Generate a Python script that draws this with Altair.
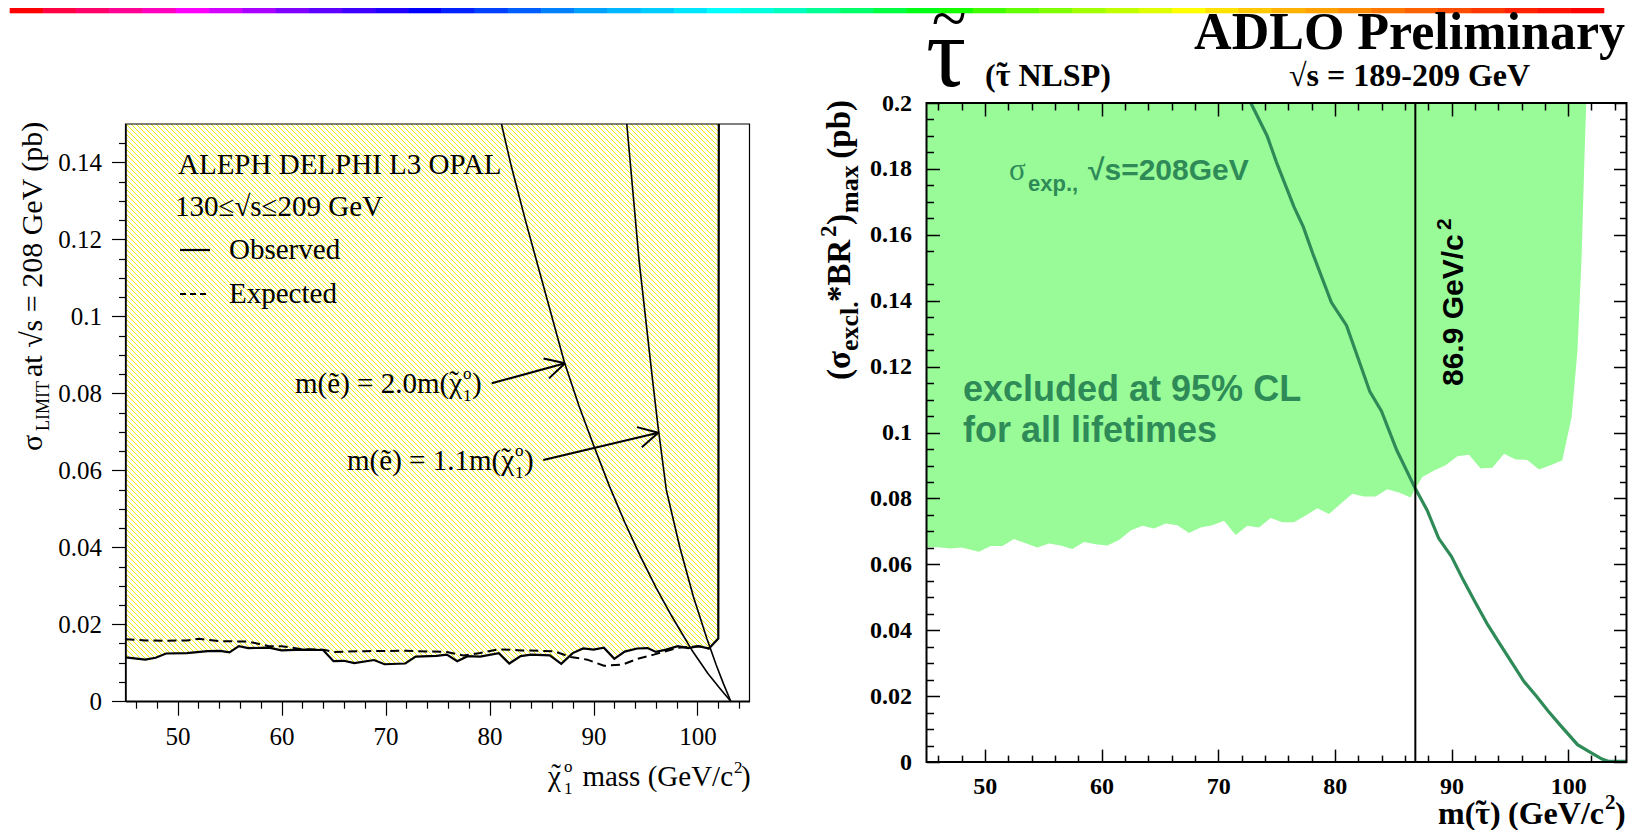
import math
import altair as alt
import pandas as pd

OFF = 8          # page margin
W_TOT, H_TOT = 1630, 822
SERIF = "Liberation Serif"
SANS = "Liberation Sans"
GREEN_FILL = "#98fb98"
GREEN_DARK = "#2e8b57"
HATCH = "#f5eb00"

# ------------------------------------------------------------------ data
# Left panel: chi01 mass vs sigma limit
obs_mass = [45.0, 46.9, 47.9, 48.9, 50.9, 52.9, 54.1, 55.0, 55.9, 56.8, 58.8, 60.0, 62.0, 64.0,
            65.0, 66.0, 67.0, 68.9, 69.9, 71.9, 72.9, 74.9, 75.9, 76.9, 77.9, 79.1, 80.9, 81.9,
            83.0, 84.0, 85.8, 86.9, 88.0, 89.0, 90.0, 91.0, 92.0, 93.0, 94.2, 95.2, 96.0, 97.0,
            98.1, 99.1, 100.1, 101.1, 102.0, 102.05]
obs_sigma = [0.0114, 0.0108, 0.0113, 0.0124, 0.0125, 0.0130, 0.0131, 0.0127, 0.0143, 0.0138,
             0.0139, 0.0132, 0.0134, 0.0133, 0.0104, 0.0105, 0.0099, 0.0107, 0.0096, 0.0098,
             0.0116, 0.0118, 0.0121, 0.0104, 0.0117, 0.0116, 0.0125, 0.0098, 0.0117, 0.0121,
             0.0119, 0.0097, 0.0125, 0.0137, 0.0134, 0.0139, 0.0110, 0.0129, 0.0137, 0.0138,
             0.0128, 0.0134, 0.0143, 0.0138, 0.0143, 0.0137, 0.0163, 0.150]
exp_mass = [45.0, 46.9, 48.9, 50.9, 52.1, 54.1, 56.8, 58.8, 60.0, 62.0,
            64.0, 65.0, 68.0, 71.9, 75.9, 77.5, 79.1, 80.9, 83.0, 86.2,
            87.8, 89.4, 91.0, 92.8, 94.2, 95.8, 98.1, 100.1, 101.1]
exp_sigma = [0.0161, 0.0158, 0.0157, 0.0158, 0.0162, 0.0156, 0.0155, 0.0143, 0.0143, 0.0135,
             0.0134, 0.0128, 0.0130, 0.0131, 0.0128, 0.0119, 0.0125, 0.0135, 0.0132, 0.0130,
             0.0115, 0.0108, 0.0092, 0.0095, 0.0110, 0.0121, 0.0139, 0.0143, 0.0137]
th20_mass = [81.15, 82.06, 83.5, 85.3, 87.2, 88.6, 90.0, 91.5, 93.0, 94.5, 96.0, 97.5, 99.5,
             101.0, 102.2, 103.2]
th20_sigma = [0.150, 0.1394, 0.1245, 0.1068, 0.0881, 0.0768, 0.0666, 0.0561, 0.0465, 0.0377,
              0.0296, 0.0222, 0.0131, 0.0072, 0.0032, 0.0]
th11_mass = [93.2, 94.4, 95.7, 96.2, 97.0, 98.3, 99.6, 100.9, 101.8, 102.5, 103.2]
th11_sigma = [0.150, 0.1141, 0.0830, 0.0715, 0.0549, 0.0400, 0.0272, 0.0163, 0.0094, 0.0045, 0.0]

# Right panel: stau NLSP
excl_mass = [45.0, 46.0, 47.0, 48.0, 49.5, 50.5, 51.5, 52.5, 53.5, 54.5, 55.5, 56.5, 57.5, 58.5,
             59.5, 60.5, 61.5, 62.5, 63.5, 64.5, 65.5, 66.5, 67.5, 68.5, 69.5, 70.5, 71.5, 72.5,
             73.5, 74.5, 75.5, 76.5, 77.5, 78.5, 79.5, 80.5, 81.5, 82.5, 83.5, 84.5, 85.5, 86.5,
             86.9, 87.5, 88.5, 89.5, 90.5, 91.5, 92.5, 93.5, 94.5, 95.5, 96.5, 97.5, 98.5, 99.5,
             100.3, 100.8, 101.15, 101.4, 101.55]
excl_sigma = [0.0652, 0.0652, 0.0648, 0.0651, 0.0638, 0.0656, 0.0656, 0.0677, 0.0664, 0.0651,
              0.0663, 0.0657, 0.0647, 0.0668, 0.0661, 0.0657, 0.0674, 0.0703, 0.0717, 0.0709,
              0.0724, 0.0719, 0.0695, 0.0712, 0.0719, 0.0732, 0.0689, 0.0717, 0.0712, 0.0741,
              0.0728, 0.0728, 0.0748, 0.0770, 0.0753, 0.0784, 0.0814, 0.0806, 0.0806, 0.0828,
              0.0818, 0.0803, 0.0830, 0.0865, 0.0885, 0.0901, 0.0928, 0.0933, 0.0891, 0.0893,
              0.0936, 0.0918, 0.0917, 0.0888, 0.0901, 0.0916, 0.1048, 0.125, 0.153, 0.184, 0.200]
sexp_mass = [72.8, 74.2, 75.0, 76.5, 77.3, 78.1, 79.7, 81.0, 82.1, 83.0, 84.0, 85.3, 86.9, 87.9,
             88.9, 90.0, 91.0, 92.0, 93.1, 94.1, 95.2, 96.2, 97.3, 98.3, 99.3, 100.8, 101.8,
             102.9, 103.5, 105.0]
sexp_sigma = [0.200, 0.190, 0.182, 0.1685, 0.1624, 0.1544, 0.1395, 0.1325, 0.1215, 0.1124,
              0.1065, 0.0947, 0.0830, 0.0765, 0.0679, 0.0624, 0.0553, 0.0487, 0.0417, 0.0361,
              0.0300, 0.0245, 0.0199, 0.0154, 0.0113, 0.0053, 0.0032, 0.0009, 0.0002, 0.0002]
limit_mass = [86.9]

# ticks
x_major = [50, 60, 70, 80, 90, 100]
x_minor = [46, 48, 52, 54, 56, 58, 62, 64, 66, 68, 72, 74, 76, 78, 82, 84, 86, 88,
           92, 94, 96, 98, 102, 104]
ly_major = [0, 0.02, 0.04, 0.06, 0.08, 0.1, 0.12, 0.14]
ly_minor = [0.005, 0.01, 0.015, 0.025, 0.03, 0.035, 0.045, 0.05, 0.055, 0.065, 0.07, 0.075,
            0.085, 0.09, 0.095, 0.105, 0.11, 0.115, 0.125, 0.13, 0.135, 0.145]
ry_major = [0, 0.02, 0.04, 0.06, 0.08, 0.1, 0.12, 0.14, 0.16, 0.18, 0.2]
ry_minor = ly_minor + [0.155, 0.165, 0.17, 0.175, 0.185, 0.19, 0.195]

rainbow = ["#ff0000", "#ff0040", "#ff006a", "#ff0095", "#ff00bf", "#ff00ff", "#d400ff", "#aa00ff",
           "#8000ff", "#5e00ff", "#4000ff", "#2200ff", "#0000ff", "#0022ff", "#0040ff", "#005eff",
           "#0080ff", "#00a2ff", "#00b7ff", "#00ccff", "#00e6ff", "#00ffff", "#00ffdd", "#00ffbf",
           "#00ff95", "#00ff6a", "#00ff40", "#00ff15", "#15ff00", "#40ff00", "#62ff00", "#80ff00",
           "#a2ff00", "#bfff00", "#ddff00", "#ffff00", "#ffe100", "#ffc800", "#ffb300", "#ffa200",
           "#ff8c00", "#ff7700", "#ff6200", "#ff4d00", "#ff3700", "#ff2200", "#ff1100", "#ff0000"]

# ------------------------------------------------------------------ scales (pixel placement)
LXR = [117.5, 741.5]
LYR = [693.2, 116.0]
RXR = [918.5, 1618.5]
RYR = [754.1, 95.0]
LX = alt.Scale(domain=[45, 105], range=LXR, nice=False, zero=False)
LY = alt.Scale(domain=[0, 0.15], range=LYR, nice=False, zero=False)
RX = alt.Scale(domain=[45, 105], range=RXR, nice=False, zero=False)
RY = alt.Scale(domain=[0, 0.2], range=RYR, nice=False, zero=False)


def bottom_at(y):
    return (y - OFF) - H_TOT


def top_at(y):
    return -(y - OFF)


def left_at(x):
    return -(x - OFF)


def right_at(x):
    return (x - OFF) - W_TOT


def axis_layer(vals, chan, scale, **kw):
    base = dict(title="", grid=False, labelFlush=False, labelOverlap=False, zindex=1,
                domainColor="black", tickColor="black", labelColor="black", values=vals)
    base.update(kw)
    ax = alt.Axis(**base)
    df = pd.DataFrame({"v": vals})
    if chan == "x":
        enc = {"x": alt.X("v:Q", scale=scale, axis=ax)}
    else:
        enc = {"y": alt.Y("v:Q", scale=scale, axis=ax)}
    return alt.Chart(df).mark_point(opacity=0).encode(**enc)


def text(t, x, y, size, font=SERIF, weight="normal", color="black", align="left", angle=0):
    return alt.Chart(pd.DataFrame({"t": [t]})).mark_text(
        align=align, baseline="alphabetic", font=font, fontSize=size,
        fontWeight=weight, color=color, angle=angle
    ).encode(x=alt.value(x - OFF), y=alt.value(y - OFF), text="t:N")


def seg(x1, y1, x2, y2, w=2.0, color="black", dash=None):
    kw = dict(color=color, strokeWidth=w)
    if dash:
        kw["strokeDash"] = dash
    return alt.Chart(pd.DataFrame({"a": [0]})).mark_rule(**kw).encode(
        x=alt.value(x1 - OFF), y=alt.value(y1 - OFF),
        x2=alt.value(x2 - OFF), y2=alt.value(y2 - OFF))


def arrow(x1, y1, x2, y2, head=22, ang=28, w=2.0):
    dx, dy = x1 - x2, y1 - y2
    L = math.hypot(dx, dy)
    ux, uy = dx / L, dy / L
    parts = [seg(x1, y1, x2, y2, w)]
    for s in (1, -1):
        a = math.radians(ang * s)
        hx = ux * math.cos(a) - uy * math.sin(a)
        hy = ux * math.sin(a) + uy * math.cos(a)
        parts.append(seg(x2, y2, x2 + head * hx, y2 + head * hy, w))
    return parts


one = pd.DataFrame({"a": [0]})

# ------------------------------------------------------------------ left panel
obs_df = pd.DataFrame({"m": obs_mass, "s": obs_sigma})
exp_df = pd.DataFrame({"m": exp_mass, "s": exp_sigma})
th20_df = pd.DataFrame({"m": th20_mass, "s": th20_sigma})
th11_df = pd.DataFrame({"m": th11_mass, "s": th11_sigma})


def lxp(v):
    return LXR[0] + (v - 45) / 60 * (LXR[1] - LXR[0])


def lyp(v):
    return LYR[0] + v / 0.15 * (LYR[1] - LYR[0])


# 45-degree yellow hatch: hard-stop linear gradient over the hatched area's bounding box,
# with an exact 5 px horizontal period so that it lies on the pixel grid.
PERIOD = 5.0
hatch_w = lxp(max(obs_mass)) - lxp(min(obs_mass))
hatch_h = lyp(min(obs_sigma)) - lyp(0.15)
ratio = hatch_h / hatch_w
n_per = int(math.ceil(hatch_w * (1 + ratio) / PERIOD))
kvec = PERIOD * n_per / (hatch_w * (1 + ratio * ratio))
frac = 0.3
stops = []
for k in range(n_per):
    a = round(k / n_per, 7)
    b = round((k + frac) / n_per, 7)
    c = round((k + 1) / n_per, 7)
    stops += [alt.GradientStop(offset=a, color=HATCH), alt.GradientStop(offset=b, color=HATCH),
              alt.GradientStop(offset=b, color="#ffffff"), alt.GradientStop(offset=c, color="#ffffff")]
hatch = alt.LinearGradient(gradient="linear", stops=stops, x1=0, y1=1,
                           x2=round(kvec, 7), y2=round(1 - kvec * ratio, 7))

l_area = alt.Chart(obs_df).mark_area(color=hatch).encode(
    x=alt.X("m:Q", scale=LX, axis=None), y=alt.Y("s:Q", scale=LY, axis=None), y2=alt.datum(0.15))
l_th20 = alt.Chart(th20_df).mark_line(color="black", strokeWidth=1.6).encode(
    x=alt.X("m:Q", scale=LX, axis=None), y=alt.Y("s:Q", scale=LY, axis=None))
l_th11 = alt.Chart(th11_df).mark_line(color="black", strokeWidth=1.6).encode(
    x=alt.X("m:Q", scale=LX, axis=None), y=alt.Y("s:Q", scale=LY, axis=None))
l_exp = alt.Chart(exp_df).mark_line(color="black", strokeWidth=2, strokeDash=[9, 5]).encode(
    x=alt.X("m:Q", scale=LX, axis=None), y=alt.Y("s:Q", scale=LY, axis=None))
l_obs = alt.Chart(obs_df).mark_line(color="black", strokeWidth=2.2).encode(
    x=alt.X("m:Q", scale=LX, axis=None), y=alt.Y("s:Q", scale=LY, axis=None))
l_frame = alt.Chart(one).mark_rect(filled=False, color="black", strokeWidth=1.2).encode(
    x=alt.XDatum(45, axis=None), x2=alt.datum(105),
    y=alt.YDatum(0, axis=None), y2=alt.datum(0.15))

lab_l = dict(labelFont=SERIF, labelFontSize=25, labelFontWeight="normal")
l_axes = [
    axis_layer(x_major, "x", LX, orient="bottom", offset=bottom_at(701.2), tickSize=14,
               tickWidth=1.2, labelPadding=9, domain=True, domainWidth=1.5, **lab_l),
    axis_layer(x_minor, "x", LX, orient="bottom", offset=bottom_at(701.2), tickSize=7,
               tickWidth=1.2, labels=False, domain=False),
    axis_layer(ly_major, "y", LY, orient="left", offset=left_at(125.5), tickSize=14,
               tickWidth=1.2, labelPadding=10, domain=True, domainWidth=1.5, format="~g", **lab_l),
    axis_layer(ly_minor, "y", LY, orient="left", offset=left_at(125.5), tickSize=7,
               tickWidth=1.2, labels=False, domain=False),
]
left_panel = alt.layer(l_area, l_th20, l_th11, l_exp, l_obs, l_frame, *l_axes).resolve_axis(
    x="independent", y="independent")

# ------------------------------------------------------------------ right panel
excl_df = pd.DataFrame({"m": excl_mass, "s": excl_sigma})
sexp_df = pd.DataFrame({"m": sexp_mass, "s": sexp_sigma})
lim_df = pd.DataFrame({"m": limit_mass})

r_area = alt.Chart(excl_df).mark_area(color=GREEN_FILL).encode(
    x=alt.X("m:Q", scale=RX, axis=None), y=alt.Y("s:Q", scale=RY, axis=None), y2=alt.datum(0.2))
r_line = alt.Chart(sexp_df).mark_line(color=GREEN_DARK, strokeWidth=3.2).encode(
    x=alt.X("m:Q", scale=RX, axis=None), y=alt.Y("s:Q", scale=RY, axis=None))
r_lim = alt.Chart(lim_df).mark_rule(color="black", strokeWidth=2).encode(
    x=alt.X("m:Q", scale=RX, axis=None), y=alt.YDatum(0, axis=None), y2=alt.datum(0.2))
r_frame = alt.Chart(one).mark_rect(filled=False, color="black", strokeWidth=2).encode(
    x=alt.XDatum(45, axis=None), x2=alt.datum(105),
    y=alt.YDatum(0, axis=None), y2=alt.datum(0.2))

lab_r = dict(labelFont=SERIF, labelFontSize=24, labelFontWeight="bold")
tk = dict(labels=False, domain=False, tickWidth=1.5)
r_axes = [
    axis_layer(x_major, "x", RX, orient="bottom", offset=bottom_at(762.1), ticks=False, tickSize=0,
               labelPadding=12, domain=False, **lab_r),
    axis_layer(x_major, "x", RX, orient="top", offset=top_at(762.1), tickSize=13, **tk),
    axis_layer(x_minor, "x", RX, orient="top", offset=top_at(762.1), tickSize=7, **tk),
    axis_layer(x_major, "x", RX, orient="bottom", offset=bottom_at(103.0), tickSize=13, **tk),
    axis_layer(x_minor, "x", RX, orient="bottom", offset=bottom_at(103.0), tickSize=7, **tk),
    axis_layer(ry_major, "y", RY, orient="left", offset=left_at(926.5), ticks=False, tickSize=0,
               labelPadding=15, domain=False, format="~g", **lab_r),
    axis_layer(ry_major, "y", RY, orient="right", offset=right_at(926.5), tickSize=13, **tk),
    axis_layer(ry_minor, "y", RY, orient="right", offset=right_at(926.5), tickSize=7, **tk),
    axis_layer(ry_major, "y", RY, orient="left", offset=left_at(1626.5), tickSize=13, **tk),
    axis_layer(ry_minor, "y", RY, orient="left", offset=left_at(1626.5), tickSize=7, **tk),
]
right_panel = alt.layer(r_area, r_line, r_lim, r_frame, *r_axes).resolve_axis(
    x="independent", y="independent")

# ------------------------------------------------------------------ rainbow strip
rb_df = pd.DataFrame({"i0": list(range(len(rainbow))), "i1": list(range(1, len(rainbow) + 1)),
                      "c": rainbow})
rb = alt.Chart(rb_df).mark_rect(strokeWidth=0.6).encode(
    x=alt.X("i0:Q", scale=alt.Scale(domain=[0, len(rainbow)], range=[2, 1596], nice=False,
                                    zero=False), axis=None),
    x2="i1",
    y=alt.value(0), y2=alt.value(5),
    color=alt.Color("c:N", scale=None, legend=None),
    stroke=alt.Stroke("c:N", scale=None, legend=None))

# ------------------------------------------------------------------ annotations
TIL = "\u02dc"   # small tilde placed over a glyph
ann = []
# left panel texts
ann += [
    text("ALEPH DELPHI L3 OPAL", 178, 174, 29),
    text("130≤√s≤209 GeV", 175, 216, 29),
    text("Observed", 229, 259, 29),
    text("Expected", 229, 303, 29),
    seg(180, 250, 210, 250, 2.2),
    seg(180, 294, 210, 294, 2.0, dash=[6, 4]),
    text("m(ẽ) = 2.0m(χ", 462, 393, 29, align="right"),
    text(TIL, 454, 391, 29, align="center"),
    text("o", 463, 379, 17), text("1", 463, 401, 17), text(")", 472, 393, 29),
    text("m(ẽ) = 1.1m(χ", 514, 470, 29, align="right"),
    text(TIL, 506, 468, 29, align="center"),
    text("o", 515, 456, 17), text("1", 515, 478, 17), text(")", 524, 470, 29),
    # x title
    text("χ", 548, 786, 29),
    text(TIL, 556, 784, 29, align="center"),
    text("o", 564, 772, 17), text("1", 564, 794, 17),
    text("mass (GeV/c", 733, 786, 29, align="right"),
    text("2", 734, 773, 17), text(")", 741, 786, 29),
    # y title (rotated)
    text("σ", 42, 451, 30, angle=270),
    text("LIMIT", 49, 431, 18, angle=270),
    text("at √s = 208 GeV (pb)", 42, 377, 30, angle=270),
]
ann += arrow(491.7, 383.3, 565.0, 363.3)
ann += arrow(543.3, 460.0, 658.3, 432.7)

# right panel texts
ann += [
    text("ADLO Preliminary", 1625, 49, 52, weight="bold", align="right"),
    text("√s = 189-209 GeV", 1289, 86, 32, weight="bold"),
    text("(τ NLSP)", 985, 86, 32, weight="bold"),
    text(TIL, 1002, 84, 32, weight="bold", align="center"),
    text("τ", 926, 86, 100),
    text("~", 949, 40, 64, align="center"),
    # y title rotated
    text("(σ", 850, 380, 33, weight="bold", angle=270),
    text("excl.", 858, 351, 26, weight="bold", angle=270),
    text("*BR", 850, 302, 33, weight="bold", angle=270),
    text("2", 836, 237, 23, weight="bold", angle=270),
    text(")", 850, 225, 33, weight="bold", angle=270),
    text("max", 858, 213, 26, weight="bold", angle=270),
    text("(pb)", 850, 100, 33, weight="bold", angle=270, align="right"),
    # x title
    text("m(τ)", 1438, 824, 32, weight="bold"),
    text(TIL, 1481, 822, 32, weight="bold", align="center"),
    text("(GeV/c", 1604, 824, 32, weight="bold", align="right"),
    text("2", 1605, 809, 21, weight="bold"),
    text(")", 1615, 824, 32, weight="bold"),
    # green labels
    text("σ", 1009, 180, 31, color=GREEN_DARK),
    text("exp.,", 1028, 191, 22, font=SANS, weight="bold", color=GREEN_DARK),
    text("√s=208GeV", 1088, 180, 30, font=SANS, weight="bold", color=GREEN_DARK),
    text("excluded at 95% CL", 963, 401, 36, font=SANS, weight="bold", color=GREEN_DARK),
    text("for all lifetimes", 963, 442, 36, font=SANS, weight="bold", color=GREEN_DARK),
    # limit label
    text("86.9 GeV/c", 1463, 386, 30, font=SANS, weight="bold", angle=270),
    text("2", 1451, 230, 21, font=SANS, weight="bold", angle=270),
]

chart = alt.layer(rb, left_panel, right_panel, *ann).resolve_scale(
    x="independent", y="independent", color="independent", stroke="independent"
).resolve_axis(x="independent", y="independent").properties(
    width=W_TOT, height=H_TOT, autosize=alt.AutoSizeParams(type="none"), padding=0
).configure_view(stroke="transparent")

chart.save("out.html", embed_options={"renderer": "svg", "actions": False})
